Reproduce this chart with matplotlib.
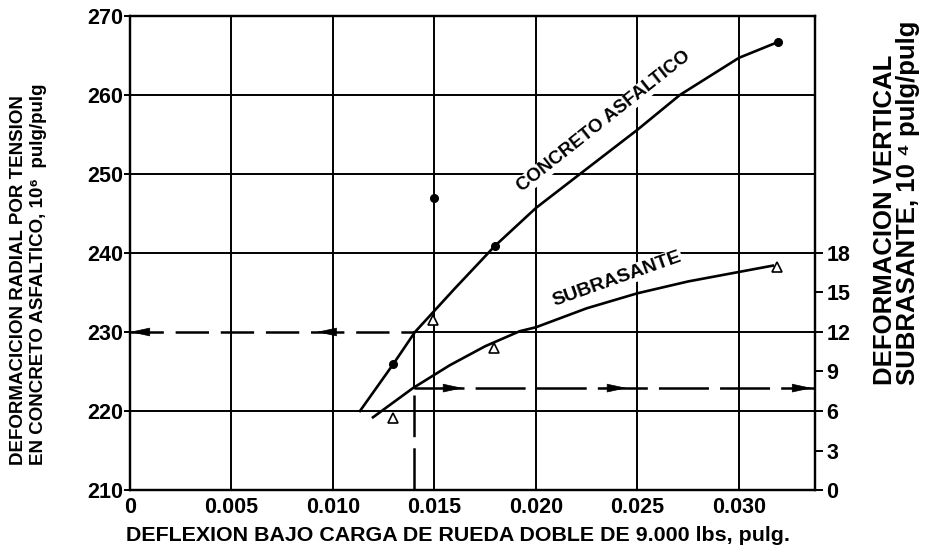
import matplotlib.pyplot as plt
import numpy as np

plt.rcParams['font.family'] = ['Liberation Sans', 'DejaVu Sans']
plt.rcParams['font.weight'] = 'bold'
plt.rcParams['lines.scale_dashes'] = False

# axis ticks
x_ticks = [0, 0.005, 0.010, 0.015, 0.020, 0.025, 0.030]
x_labels = ['0', '0.005', '0.010', '0.015', '0.020', '0.025', '0.030']
y_ticks = [210, 220, 230, 240, 250, 260, 270]
r_ticks = [0, 3, 6, 9, 12, 15, 18]

# curves
concreto_x = [0.01133, 0.01296, 0.01404, 0.0160, 0.01798, 0.0200, 0.02217, 0.0250, 0.02709, 0.0300, 0.03192]
concreto_y = [220.0, 225.9, 230.0, 235.5, 240.9, 245.7, 250.0, 255.6, 260.0, 264.7, 266.7]
subras_x = [0.01197, 0.01394, 0.01576, 0.0175, 0.0192, 0.0200, 0.0225, 0.0250, 0.0275, 0.0300, 0.03167]
subras_y = [219.2, 222.9, 225.8, 228.2, 230.1, 230.6, 233.0, 234.9, 236.4, 237.6, 238.4]

# measured points
dots_x = [0.01296, 0.01498, 0.01798, 0.03192]
dots_y = [225.9, 246.9, 240.9, 266.7]
tri_x = [0.01296, 0.01495, 0.01793, 0.0319]
tri_y = [219.1, 231.5, 228.0, 238.2]

# design reading
x_read = 0.0140
y_conc = 230.0
y_sub = 222.9

xmax = 0.03375

fig, ax = plt.subplots(figsize=(9.32, 5.51), dpi=100)
fig.subplots_adjust(left=0.1395, right=0.8745, bottom=0.1107, top=0.971)

# grid
for xv in x_ticks[1:]:
    ax.plot([xv, xv], [210, 270], color='black', lw=1.4, zorder=1)
for yv in [220, 240, 250, 260]:
    ax.plot([0, xmax], [yv, yv], color='black', lw=1.4, zorder=1)
ax.plot([x_read, xmax], [y_conc, y_conc], color='black', lw=1.4, zorder=1)

# reading lines
ax.plot([0, x_read], [y_conc, y_conc], color='black', lw=1.8, ls=(0, (24, 8.5)), zorder=2)
ax.plot([x_read, x_read], [y_conc, y_sub], color='black', lw=1.4, zorder=2)
ax.plot([x_read, x_read], [y_sub - 0.9, 210], color='black', lw=1.8, ls=(0, (30, 8)), zorder=2)
ax.plot([x_read, xmax], [y_sub, y_sub], color='black', lw=1.8, ls=(0, (36, 8)), zorder=2)

arrows = [(0.0, 0.0008, y_conc), (0.0092, 0.0100, y_conc),
          (0.0164, 0.0153, y_sub), (0.02448, 0.0233, y_sub), (0.0336, 0.0329, y_sub)]
for tip, tail, yy in arrows:
    ax.annotate('', xy=(tip, yy), xytext=(tail, yy),
                arrowprops=dict(arrowstyle='-|>,head_length=1.3,head_width=0.28',
                                color='black', lw=0.5, shrinkA=0, shrinkB=0), zorder=3)

# curves
ax.plot(concreto_x, concreto_y, color='black', lw=1.9, zorder=3)
ax.plot(subras_x, subras_y, color='black', lw=1.9, zorder=3)
ax.plot(dots_x, dots_y, 'o', color='black', ms=5.5, zorder=4)
ax.plot(tri_x, tri_y, '^', mfc='white', mec='black', mew=1.2, ms=6.5, zorder=4)

ax.text(0.02335, 256.6, 'CONCRETO ASFALTICO', rotation=38.4, fontsize=13.5,
        ha='center', va='center', rotation_mode='anchor',
        bbox=dict(fc='white', ec='none', pad=0.5), zorder=2.5)
ax.text(0.02399, 236.7, 'SUBRASANTE', rotation=19.5, fontsize=14,
        ha='center', va='center', rotation_mode='anchor',
        bbox=dict(fc='white', ec='none', pad=0.5), zorder=2.5)

ax.set_xlim(0, xmax)
ax.set_ylim(210, 270)
ax.set_xticks(x_ticks)
ax.set_xticklabels(x_labels)
ax.set_yticks(y_ticks)
ax.tick_params(axis='x', length=0, labelsize=15.5, pad=5)
ax.tick_params(axis='y', length=4, width=1.4, labelsize=15.5, pad=1)
for sp in ax.spines.values():
    sp.set_linewidth(1.6)

ax2 = ax.twinx()
ax2.set_ylim(0, 36)
ax2.set_yticks(r_ticks)
ax2.tick_params(axis='y', length=6, width=1.4, labelsize=15.5, pad=2)
for sp in ax2.spines.values():
    sp.set_linewidth(1.6)

fig.text(0.491, 0.029, 'DEFLEXION BAJO CARGA DE RUEDA DOBLE DE 9.000 lbs, pulg.',
         fontsize=15.4, ha='center', va='center')
fig.text(0.0306, 0.156, 'DEFORMACICION RADIAL POR TENSION\nEN CONCRETO ASFALTICO, 10\u2076  pulg/pulg',
         rotation=90, fontsize=13.5, ha='center', va='bottom', multialignment='left',
         linespacing=1.25)
fig.text(0.962, 0.301, 'DEFORMACION VERTICAL\nSUBRASANTE, 10 \u2074 pulg/pulg',
         rotation=90, fontsize=18.5, ha='center', va='bottom', multialignment='left',
         linespacing=0.92)

fig.savefig('out.png', dpi=100)
